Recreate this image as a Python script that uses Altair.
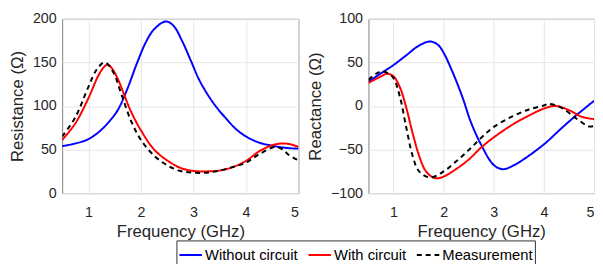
import altair as alt
import pandas as pd

SERIES = ["Without circuit", "With circuit", "Measurement"]

# Resistance panel
r_wo_f = [0.5, 0.75, 1.0, 1.25, 1.5, 1.6, 1.75, 1.93, 2.1, 2.25, 2.47, 2.62, 2.78, 2.95, 3.1, 3.25, 3.42, 3.6, 3.8, 4.0, 4.25, 4.5, 4.75, 5.0]
r_wo_v = [54, 57, 62, 73, 90, 100, 121, 150, 174, 188, 197, 192, 175, 152, 131, 115, 100, 87, 74, 65, 58, 54.5, 52, 51]
r_w_f = [0.5, 0.75, 1.0, 1.19, 1.3, 1.37, 1.45, 1.56, 1.68, 1.8, 2.0, 2.25, 2.5, 2.75, 3.0, 3.25, 3.5, 3.75, 4.0, 4.25, 4.5, 4.69, 4.85, 5.0]
r_w_v = [61, 80, 109, 135, 145, 147.5, 143, 131, 113, 95, 72, 50, 37.5, 29, 25.5, 25, 26, 30, 37, 48, 55, 57, 56, 53]
r_m_f = [0.5, 0.75, 1.0, 1.16, 1.31, 1.47, 1.63, 1.81, 2.0, 2.25, 2.5, 2.75, 3.0, 3.25, 3.5, 3.75, 4.0, 4.26, 4.56, 4.7, 4.81, 5.0]
r_m_v = [65, 87, 122, 142, 150, 139, 113, 83, 61, 43, 32, 25.5, 23.5, 23.5, 26, 30, 35, 45, 53, 50, 44, 37.5]

# Reactance panel
x_wo_f = [0.5, 0.75, 1.0, 1.25, 1.5, 1.73, 1.89, 2.0, 2.14, 2.27, 2.4, 2.52, 2.65, 2.78, 2.93, 3.05, 3.2, 3.4, 3.6, 4.0, 4.38, 4.64, 5.0]
x_wo_v = [28, 37.5, 47, 58, 69, 74, 70, 61, 44, 26, 6, -15, -33, -48, -63, -70, -72.5, -68, -61, -44, -24, -11, 6]
x_w_f = [0.5, 0.75, 0.87, 1.0, 1.13, 1.25, 1.38, 1.51, 1.63, 1.76, 1.87, 2.0, 2.27, 2.52, 2.74, 3.0, 3.37, 3.7, 4.0, 4.23, 4.51, 4.76, 5.0]
x_w_v = [26.5, 34, 37, 34, 21, -1, -31, -57, -73.5, -81, -83, -81, -71.5, -60.5, -48, -36, -21.5, -11, -3, 0, -5, -12.5, -15]
x_m_f = [0.5, 0.65, 0.78, 0.9, 1.0, 1.13, 1.25, 1.38, 1.51, 1.73, 2.0, 2.27, 2.52, 2.74, 3.0, 3.37, 3.7, 4.0, 4.08, 4.2, 4.38, 4.64, 4.9, 5.0]
x_m_v = [30, 37, 40, 37, 32, 10, -23.5, -57, -75, -82, -75, -62.5, -49.5, -37, -24, -12, -4, 0.6, 2.4, 1.5, -3, -14, -23.5, -23]


def frame(pairs):
    rows = []
    for name, fs, vs in pairs:
        for f, v in zip(fs, vs):
            rows.append({"series": name, "f": f, "v": v})
    return pd.DataFrame(rows)


res_df = frame([(SERIES[0], r_wo_f, r_wo_v), (SERIES[1], r_w_f, r_w_v), (SERIES[2], r_m_f, r_m_v)])
rea_df = frame([(SERIES[0], x_wo_f, x_wo_v), (SERIES[1], x_w_f, x_w_v), (SERIES[2], x_m_f, x_m_v)])

FONT = "Liberation Sans"
TXT = "#262626"
PH = 177

legend = alt.Legend(
    title=None, orient="none", legendX=116, legendY=225, direction="horizontal",
    symbolType="stroke", symbolSize=520, symbolStrokeWidth=2, labelFontSize=15,
    labelFont=FONT, labelColor="#000000", labelOffset=2, columnPadding=6,
    strokeColor="#333333", fillColor="#ffffff", padding=2,
)

color = alt.Color("series:N", scale=alt.Scale(domain=SERIES, range=["#0000ff", "#ff0000", "#000000"]), legend=legend)
dash = alt.StrokeDash("series:N", scale=alt.Scale(domain=SERIES, range=[[1, 0], [1, 0], [5, 4]]), legend=legend)

xenc = alt.X("f:Q", scale=alt.Scale(domain=[0.5, 5], nice=False),
             axis=alt.Axis(values=[1, 2, 3, 4, 5], title="Frequency (GHz)"))

left = alt.Chart(res_df).mark_line(strokeWidth=2, interpolate="catmull-rom", clip=True).encode(
    x=xenc,
    y=alt.Y("v:Q", scale=alt.Scale(domain=[0, 200], nice=False),
            axis=alt.Axis(values=[0, 50, 100, 150, 200], title="Resistance (Ω)")),
    color=color, strokeDash=dash, order=alt.Order("f:Q"),
).properties(width=240, height=PH)

right = alt.Chart(rea_df).mark_line(strokeWidth=2, interpolate="catmull-rom", clip=True).encode(
    x=xenc,
    y=alt.Y("v:Q", scale=alt.Scale(domain=[-100, 100], nice=False),
            axis=alt.Axis(values=[-100, -50, 0, 50, 100], title="Reactance (Ω)")),
    color=color, strokeDash=dash, order=alt.Order("f:Q"),
).properties(width=229, height=PH)

chart = alt.hconcat(left, right, spacing=6).properties(
    padding={"left": 0, "top": 0, "right": 0, "bottom": 0}
).configure_view(stroke="#808080", strokeWidth=1).configure_axis(
    labelFont=FONT, titleFont=FONT, labelFontSize=14.5, titleFontSize=17,
    titleFontWeight="normal", labelColor=TXT, titleColor=TXT,
    gridColor="#e6e6e6", domain=False, ticks=False, labelPadding=6,
).configure_axisX(labelPadding=13, titlePadding=5).configure_axisY(titlePadding=6)

chart.save("out.html", embed_options={"renderer": "svg", "actions": False})
